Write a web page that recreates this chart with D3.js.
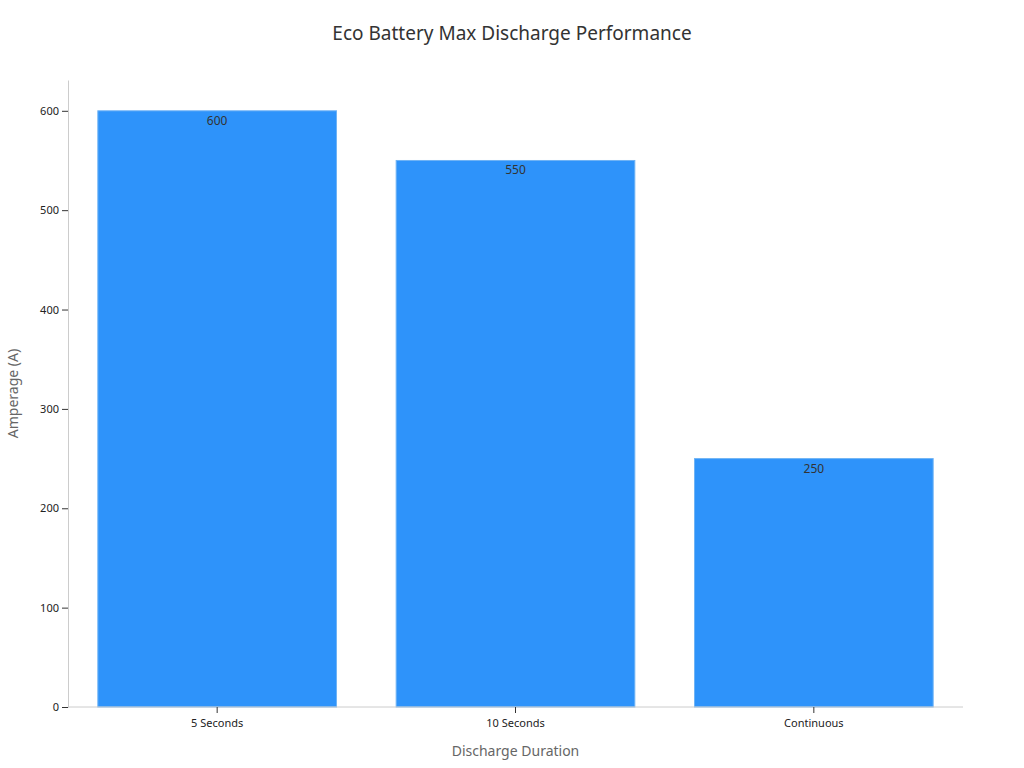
<!DOCTYPE html>
<html>
<head>
<meta charset="utf-8">
<script src="https://cdn.jsdelivr.net/npm/d3@7"></script>
<style>
  body { margin: 0; background: #fff; }
  text { font-family: "Noto Sans", "DejaVu Sans", sans-serif; }
</style>
</head>
<body>
<svg id="chart" width="1024" height="768"></svg>
<script>
// chart data
const categories = ["5 Seconds", "10 Seconds", "Continuous"];
const amps = [600, 550, 250];
const yTicks = [0, 100, 200, 300, 400, 500, 600];

const margin = { top: 80, right: 61, bottom: 61, left: 68 };
const width = 1024 - margin.left - margin.right;
const height = 768 - margin.top - margin.bottom;

const svg = d3.select("#chart");

svg.append("text")
  .attr("x", 512).attr("y", 40)
  .attr("text-anchor", "middle")
  .style("font-size", "19px").style("fill", "#333")
  .text("Eco Battery Max Discharge Performance");

const g = svg.append("g").attr("transform", `translate(${margin.left},${margin.top})`);

const x = d3.scaleBand().domain(categories).range([0, width])
  .paddingInner(0.2).paddingOuter(0.1);
const y = d3.scaleLinear().domain([0, 631]).range([height, 0]);

// bars
g.selectAll(".bar").data(amps).enter().append("rect")
  .attr("class", "bar")
  .attr("x", (d, i) => x(categories[i]))
  .attr("y", d => y(d))
  .attr("width", x.bandwidth())
  .attr("height", d => height - y(d))
  .style("fill", "#2e93fa")
  .style("stroke", "#6fb3f5")
  .style("stroke-width", 1);

// value labels
g.selectAll(".lbl").data(amps).enter().append("text")
  .attr("x", (d, i) => x(categories[i]) + x.bandwidth() / 2)
  .attr("y", d => y(d) + 14)
  .attr("text-anchor", "middle")
  .style("font-size", "12px").style("fill", "#333")
  .text(d => d);

// axes
const xAxis = g.append("g").attr("transform", `translate(0,${height})`)
  .call(d3.axisBottom(x).tickSizeOuter(0));
xAxis.select(".domain").attr("stroke", "#ccc");
xAxis.selectAll(".tick line").attr("stroke", "#333");
xAxis.selectAll("text").style("font-size", "11px").style("fill", "#222").attr("dy", "1em");
xAxis.select(".domain").attr("d", `M0,0H${width + 0}`);

const yAxis = g.append("g")
  .call(d3.axisLeft(y).tickValues(yTicks).tickSizeOuter(0));
yAxis.select(".domain").attr("stroke", "#ccc");
yAxis.selectAll(".tick line").attr("stroke", "#333");
yAxis.selectAll("text").style("font-size", "11px").style("fill", "#222");

// axis titles
svg.append("text")
  .attr("x", margin.left + width / 2).attr("y", 756)
  .attr("text-anchor", "middle")
  .style("font-size", "14px").style("fill", "#666")
  .text("Discharge Duration");

svg.append("text")
  .attr("transform", `translate(18,${margin.top + height / 2}) rotate(-90)`)
  .attr("text-anchor", "middle")
  .style("font-size", "14px").style("fill", "#666")
  .text("Amperage (A)");
</script>
</body>
</html>
